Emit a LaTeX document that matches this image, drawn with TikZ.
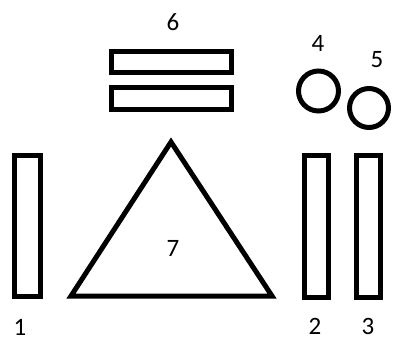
\documentclass[tikz,border=0pt]{standalone}
\usepackage{fontspec}
\setmainfont{Carlito}
\begin{document}
\begin{tikzpicture}[x=1pt,y=-1pt,
  shapeline/.style={draw=black,line width=5pt,fill=white},
  lbl/.style={font=\fontsize{25}{25}\selectfont,inner sep=0pt}]
\useasboundingbox[fill=white] (0,0) rectangle (393,341);
% bars
\draw[shapeline] (14,155) rectangle (40,296);
\draw[shapeline] (304.5,155) rectangle (328.5,297);
\draw[shapeline] (356.5,155) rectangle (380.5,297);
% top bars
\draw[shapeline] (111.5,51.5) rectangle (231.5,72.5);
\draw[shapeline] (111.5,87.5) rectangle (231.5,109.5);
% circles
\draw[shapeline] (318.5,91) circle[radius=20];
\draw[shapeline] (369,108) circle[radius=19.5];
% triangle
\draw[shapeline,line join=miter] (171,142) -- (272,296) -- (71,296) -- cycle;
% labels
\node[lbl] (l1) at (20,327) {1};
\node[lbl] (l2) at (315,326) {2};
\node[lbl] (l3) at (368,326) {3};
\node[lbl] (l4) at (318,43) {4};
\node[lbl] (l5) at (377,60) {5};
\node[lbl] (l6) at (173,22) {6};
\node[lbl] (l7) at (173,248) {7};
\end{tikzpicture}
\end{document}
